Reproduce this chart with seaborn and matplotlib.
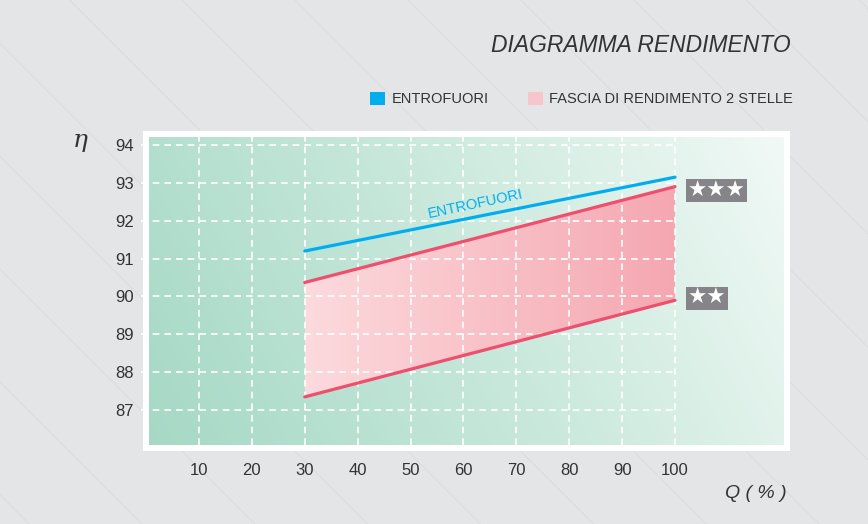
import numpy as np
import pandas as pd
import matplotlib.pyplot as plt
import seaborn as sns
from matplotlib.patches import Patch, Rectangle
from matplotlib.lines import Line2D
from matplotlib.colors import LinearSegmentedColormap

# ---- data ----
Q = [30, 100]
ENTROFUORI = [91.2, 93.15]
BAND_TOP = [90.37, 92.9]
BAND_BOTTOM = [87.35, 89.9]
X_TICKS = [10, 20, 30, 40, 50, 60, 70, 80, 90, 100]
Y_TICKS = [87, 88, 89, 90, 91, 92, 93, 94]
STAR_LABELS = ["★★★", "★★"]
STAR_Y = [92.8, 89.95]

BLUE = "#00aeef"
PINK = "#ee4f6e"
TEXT = "#333333"

XMIN, XMAX = 0.55, 120.6
YMIN, YMAX = 86.08, 94.21

sns.set_theme(style="white")
plt.rcParams["font.family"] = ["Liberation Sans", "DejaVu Sans"]

W, H = 868, 524
fig = plt.figure(figsize=(W / 100, H / 100), dpi=100)
fig.patch.set_facecolor("#e4e5e7")

# faint diagonal texture on the page
for x0 in np.arange(-0.7, 1.1, 0.13):
    fig.add_artist(Line2D([x0, x0 + H / W], [1, 0], transform=fig.transFigure,
                          color="#dadbdd", lw=0.6, zorder=-3))

# white frame around the plot area
fig.add_artist(Rectangle((143 / W, (H - 451) / H), (790 - 143) / W, (451 - 131) / H,
                         transform=fig.transFigure, facecolor="white",
                         edgecolor="none", zorder=-1))

ax = fig.add_axes([149 / W, (H - 445) / H, (784 - 149) / W, (445 - 137) / H])
ax.set_facecolor("none")

# background gradient (green bottom-left -> almost white top-right)
xx, yy = np.meshgrid(np.linspace(0, 1, 300), np.linspace(0, 1, 300))
bg_cmap = LinearSegmentedColormap.from_list("bg", ["#a6d9c5", "#c8e8db", "#f1f9f6"])
ax.imshow(0.8 * xx + 0.2 * yy, extent=[XMIN, XMAX, YMIN, YMAX], origin="lower",
          cmap=bg_cmap, vmin=0, vmax=1, aspect="auto", zorder=0)

# 2-star band with horizontal gradient
band = ax.fill_between(Q, BAND_BOTTOM, BAND_TOP, facecolor="none", edgecolor="none")
band_cmap = LinearSegmentedColormap.from_list("band", ["#fcdadd", "#f5a7b1"])
im = ax.imshow(xx, extent=[Q[0], Q[-1], YMIN, YMAX], origin="lower",
               cmap=band_cmap, aspect="auto", zorder=1)
im.set_clip_path(band.get_paths()[0], transform=ax.transData)

# dashed white grid (horizontal lines run into the frame and stop at Q = 100)
dash = (0, (4, 3))
ax.vlines(X_TICKS, YMIN, YMAX, colors="white", linestyles=dash, lw=1.2, zorder=2)
ax.hlines(Y_TICKS, -1.0, X_TICKS[-1], colors="white", linestyles=dash, lw=1.2,
          zorder=2, clip_on=False)

df = pd.DataFrame({"Q": Q, "entrofuori": ENTROFUORI,
                   "top": BAND_TOP, "bottom": BAND_BOTTOM})
sns.lineplot(data=df, x="Q", y="entrofuori", color=BLUE, lw=2.3, ax=ax, zorder=3)
sns.lineplot(data=df, x="Q", y="top", color=PINK, lw=2.3, ax=ax, zorder=3)
sns.lineplot(data=df, x="Q", y="bottom", color=PINK, lw=2.3, ax=ax, zorder=3)

ax.text(62.2, 92.44, "ENTROFUORI", color=BLUE, fontsize=10.5, rotation=12,
        ha="center", va="center", zorder=4)

for label, y in zip(STAR_LABELS, STAR_Y):
    ax.text(102.4, y, label, color="white", fontsize=15.5, family="DejaVu Sans",
            ha="left", va="center", zorder=4,
            bbox=dict(boxstyle="square,pad=0.08", fc="#858589", ec="none"))

ax.set_xlim(XMIN, XMAX)
ax.set_ylim(YMIN, YMAX)
ax.set_xticks(X_TICKS)
ax.set_yticks(Y_TICKS)
ax.set_xlabel("")
ax.set_ylabel("")
ax.tick_params(axis="x", length=0, pad=13, labelsize=12, colors=TEXT)
ax.tick_params(axis="y", length=0, pad=11, labelsize=12, colors=TEXT)
for s in ax.spines.values():
    s.set_visible(False)

fig.text(791 / W, 1 - 45 / H, "DIAGRAMMA RENDIMENTO", ha="right", va="center",
         fontsize=16.5, style="italic", color=TEXT)
fig.text(80 / W, 1 - 140 / H, "η", ha="center", va="center", fontsize=18,
         style="italic", family="DejaVu Serif", color=TEXT)
fig.text(756 / W, 1 - 494 / H, "Q ( % )", ha="center", va="center", fontsize=14,
         style="italic", color=TEXT)

handles = [Patch(facecolor=BLUE, edgecolor="none"),
           Patch(facecolor="#f6c6cc", edgecolor="none")]
fig.legend(handles, ["ENTROFUORI", "FASCIA DI RENDIMENTO 2 STELLE"],
           loc="center right", bbox_to_anchor=(806 / W, 1 - 99 / H), ncol=2,
           frameon=False, handlelength=1.0, handleheight=1.0, handletextpad=0.45,
           columnspacing=2.7, fontsize=10.5, labelcolor=TEXT)

fig.savefig("out.png", dpi=100, facecolor=fig.get_facecolor())
